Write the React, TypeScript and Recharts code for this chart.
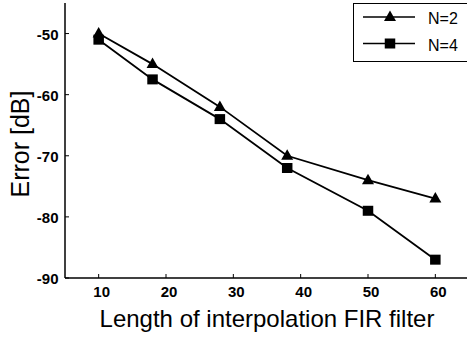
import React from 'react';
import { LineChart, Line, XAxis, YAxis } from 'recharts';

const lengths = [10, 18, 28, 38, 50, 60];
const errN2 = [-50, -55, -62, -70, -74, -77];
const errN4 = [-51, -57.5, -64, -72, -79, -87];
const xTicks = [10, 20, 30, 40, 50, 60];
const yTicks = [-90, -80, -70, -60, -50];
const seriesNames = ['N=2', 'N=4'];

const data = lengths.map((x, i) => ({ x, n2: errN2[i], n4: errN4[i] }));

const FONT = '"Liberation Sans", Arial, sans-serif';

const BottomTick = (p: any) => {
  const { x, y, payload } = p;
  return (
    <g>
      <line x1={x} y1={y} x2={x} y2={y - 4} stroke="#000" strokeWidth={1} />
      <text x={x + 3} y={y + 19} textAnchor="middle" fontFamily={FONT} fontWeight="bold" fontSize={15} fill="#000">
        {payload.value}
      </text>
    </g>
  );
};

const TopTick = (p: any) => {
  const { x, y } = p;
  return <line x1={x} y1={y} x2={x} y2={y + 4} stroke="#000" strokeWidth={1} />;
};

const RightTick = (p: any) => {
  const { x, y } = p;
  return <line x1={x} y1={y} x2={x - 4} y2={y} stroke="#000" strokeWidth={1} />;
};

const LeftTick = (p: any) => {
  const { x, y, payload } = p;
  return (
    <g>
      <line x1={x} y1={y} x2={x + 4} y2={y} stroke="#000" strokeWidth={1} />
      <text x={x - 6.5} y={y + 6} textAnchor="end" fontFamily={FONT} fontWeight="bold" fontSize={15} fill="#000">
        {payload.value}
      </text>
    </g>
  );
};

const XLabel = (p: any) => {
  const vb = p.viewBox || {};
  return (
    <text x={vb.x + vb.width / 2} y={vb.y + 49} textAnchor="middle" fontFamily={FONT} fontSize={24} fill="#000">
      Length of interpolation FIR filter
    </text>
  );
};

const YLabel = (p: any) => {
  const vb = p.viewBox || {};
  const cx = 28.5;
  const cy = 144;
  return (
    <text x={cx} y={cy} transform={`rotate(-90 ${cx} ${cy})`} textAnchor="middle" fontFamily={FONT} fontSize={25} fill="#000">
      Error [dB]
    </text>
  );
};

const TriDot = (p: any) => {
  const { cx, cy } = p;
  if (cx == null || cy == null) return null;
  return <path d={`M${cx},${cy - 6.5} L${cx + 6},${cy + 4} L${cx - 6},${cy + 4} Z`} fill="#000" />;
};

const SqDot = (p: any) => {
  const { cx, cy } = p;
  if (cx == null || cy == null) return null;
  return <rect x={cx - 5.25} y={cy - 5} width={10.5} height={10} fill="#000" />;
};

const LegendBox = () => {
  return (
    <div style={{ position: 'absolute', left: 353, top: 3, width: 120, height: 59, border: '1.5px solid #000', background: '#fff', boxSizing: 'border-box' }}>
      <svg width={120} height={57} style={{ display: 'block' }}>
        {seriesNames.map((name, i) => {
          const y = 13 + i * 26.5;
          return (
            <g key={name}>
              <line x1={9} y1={y} x2={61} y2={y} stroke="#000" strokeWidth={1.5} />
              {i === 0 ? <TriDot cx={36} cy={y} /> : <SqDot cx={36} cy={y} />}
              <text x={74} y={y + 7} fontFamily={FONT} fontSize={16} fill="#000">
                {name}
              </text>
            </g>
          );
        })}
      </svg>
    </div>
  );
};

export default function App() {
  return (
    <div style={{ position: 'absolute', left: 0, top: 0, width: 467, height: 341, overflow: 'hidden', background: '#fff' }}>
      <LineChart width={471} height={341} data={data} margin={{ top: 3, right: 2, bottom: 0, left: 0 }}>
        <XAxis
          xAxisId="b"
          dataKey="x"
          type="number"
          domain={[5, 65]}
          ticks={xTicks}
          height={63}
          tickSize={0}
          tickMargin={0}
          tickLine={false}
          tick={<BottomTick />}
          axisLine={{ stroke: '#000', strokeWidth: 1.5 }}
          label={<XLabel />}
        />
        <XAxis
          xAxisId="t"
          orientation="top"
          dataKey="x"
          type="number"
          domain={[5, 65]}
          ticks={xTicks}
          height={0}
          tickSize={0}
          tickMargin={0}
          tickLine={false}
          tick={<TopTick />}
          axisLine={{ stroke: '#000', strokeWidth: 1.5 }}
        />
        <YAxis
          yAxisId="l"
          type="number"
          domain={[-90, -45]}
          ticks={yTicks}
          width={65}
          tickSize={0}
          tickMargin={0}
          tickLine={false}
          tick={<LeftTick />}
          axisLine={{ stroke: '#000', strokeWidth: 1.5 }}
          label={<YLabel />}
          allowDataOverflow
        />
        <YAxis
          yAxisId="r"
          orientation="right"
          type="number"
          domain={[-90, -45]}
          ticks={yTicks}
          width={0}
          tickSize={0}
          tickMargin={0}
          tickLine={false}
          tick={<RightTick />}
          axisLine={{ stroke: '#000', strokeWidth: 1.5 }}
          allowDataOverflow
        />
        <Line xAxisId="b" yAxisId="l" dataKey="n2" name="N=2" stroke="#000" strokeWidth={1.8} dot={<TriDot />} activeDot={false} isAnimationActive={false} />
        <Line xAxisId="b" yAxisId="l" dataKey="n4" name="N=4" stroke="#000" strokeWidth={1.8} dot={<SqDot />} activeDot={false} isAnimationActive={false} />
      </LineChart>
      <LegendBox />
    </div>
  );
}
